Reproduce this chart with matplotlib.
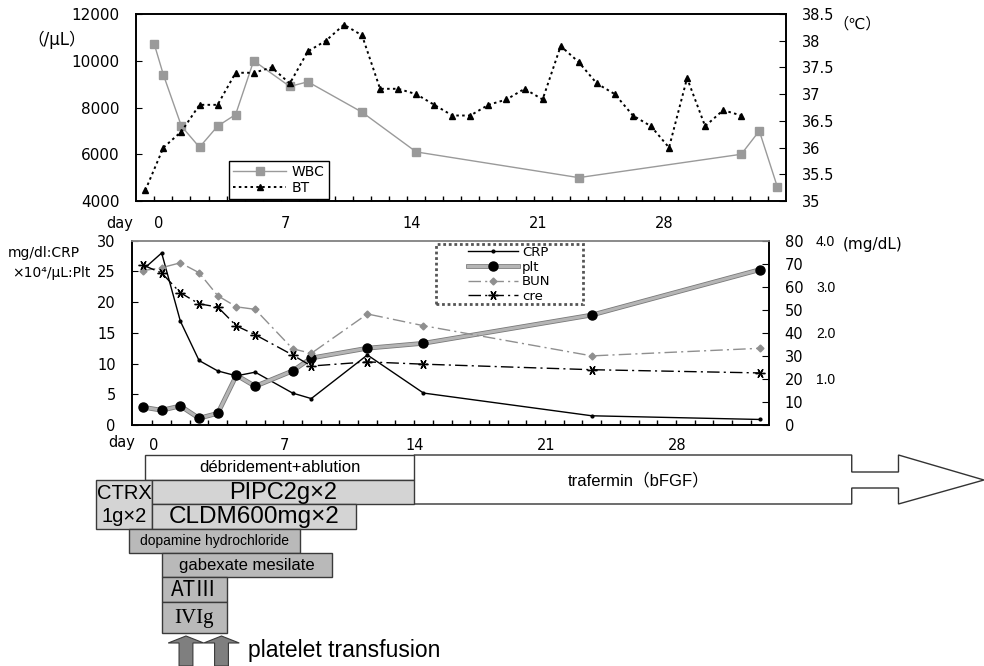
import matplotlib.pyplot as plt
import matplotlib.patheffects as pe
from matplotlib.patches import Rectangle, Polygon
import numpy as np

plt.rcParams['font.family'] = ['DejaVu Sans', 'Noto Sans CJK JP']

W, H = 984, 666

# top panel: WBC (/uL, left axis) and body temperature (deg C, right axis)
wbc_day = [-0.5, 0, 1, 2, 3, 4, 5, 7, 8, 11, 14, 23, 32, 33, 34]
wbc = [10700, 9400, 7200, 6300, 7200, 7700, 10000, 8900, 9100, 7800, 6100, 5000, 6000, 7000, 4600]
bt_day = list(range(-1, 33))
bt = [35.2, 36.0, 36.3, 36.8, 36.8, 37.4, 37.4, 37.5, 37.2, 37.8,
      38.0, 38.3, 38.1, 37.1, 37.1, 37.0, 36.8, 36.6, 36.6, 36.8,
      36.9, 37.1, 36.9, 37.9, 37.6, 37.2, 37.0, 36.6, 36.4, 36.0,
      37.3, 36.4, 36.7, 36.6]

# lower panel: CRP (mg/dl), plt (x10^4/uL), BUN (0-80), cre (mg/dL)
lab_day = [-1, 0, 1, 2, 3, 4, 5, 7, 8, 11, 14, 23, 32]
crp = [25.3, 28.0, 16.9, 10.5, 8.8, 8.0, 8.6, 5.2, 4.3, 11.4, 5.2, 1.5, 0.9]
plt_cnt = [2.9, 2.4, 3.1, 1.1, 1.9, 8.1, 6.3, 8.8, 10.9, 12.5, 13.3, 17.9, 25.3]
bun = [67.0, 68.3, 70.4, 66.1, 56.1, 51.3, 50.2, 33.1, 31.1, 48.2, 43.1, 30.0, 33.3]
cre = [3.47, 3.30, 2.87, 2.63, 2.56, 2.15, 1.96, 1.52, 1.28, 1.37, 1.32, 1.20, 1.13]

day_marks = [0, 7, 14, 21, 28]

# treatments (days on the lower panel's scale)
treat_name = ['débridement+ablution', 'CTRX\n1g×2', 'PIPC2g×2', 'CLDM600mg×2',
              'dopamine hydrochloride', 'gabexate mesilate', 'ATⅢ', 'IVIg']
treat_start = [-0.9, -3.5, -0.5, -0.5, -1.75, 0, 0, 0]
treat_end = [13.5, -0.5, 13.5, 10.4, 7.4, 9.1, 3.5, 3.5]
trafermin_start = 13.5
transfusion_day = [1.3, 3.2]


def box(l, t, r, b):
    return [l / W, 1 - b / H, (r - l) / W, (b - t) / H]


fig = plt.figure(figsize=(W / 100, H / 100), dpi=100)

# ---------- treatment bars ----------
axg = fig.add_axes(box(132.3, 448, 768.7, 666))
axg.set_xlim(-1.57, 32.46)
axg.set_ylim(666, 448)
axg.axis('off')

row_top = [455, 480, 480, 504, 529, 553, 577, 602]
row_bot = [480, 529, 504, 529, 553, 577, 602, 633]
row_fc = ['white', '#d4d4d4', '#d4d4d4', '#d4d4d4', '#b9b9b9', '#b9b9b9', '#b9b9b9', '#b9b9b9']
row_fs = [12, 14.5, 17, 17.5, 10, 12, 15, 15]
row_family = ['Liberation Sans'] * 6 + ['Noto Sans CJK JP', 'Liberation Serif']

# trafermin block arrow
ends = 36.9
shaft = 39.4
tip = 43.97
verts = [(trafermin_start, 455), (ends, 455), (ends, 472), (shaft, 472), (shaft, 455),
         (tip, 480), (shaft, 504), (shaft, 488), (ends, 488), (ends, 504), (trafermin_start, 504)]
axg.add_patch(Polygon(verts, closed=True, fc='white', ec='#333333', lw=1, clip_on=False))
axg.text((trafermin_start + ends) / 2 + 0.3, 480, 'trafermin（bFGF）', ha='center', va='center',
         fontsize=12, family=['Liberation Sans', 'Noto Sans CJK JP'], clip_on=False)

for i in range(len(treat_name)):
    a, b = treat_start[i], treat_end[i]
    axg.add_patch(Rectangle((a, row_top[i]), b - a, row_bot[i] - row_top[i], fc=row_fc[i],
                            ec='#3a3a3a', lw=1, clip_on=False))
    axg.text((a + b) / 2, (row_top[i] + row_bot[i]) / 2 + 0.5, treat_name[i], ha='center', va='center',
             fontsize=row_fs[i], family=row_family[i], linespacing=1.25, clip_on=False)

for d in transfusion_day:
    hw, sw = 0.95, 0.37
    arrow = [(d - sw, 666), (d - sw, 643), (d - hw, 643), (d, 636), (d + hw, 643), (d + sw, 643), (d + sw, 666)]
    axg.add_patch(Polygon(arrow, closed=True, fc='#7f7f7f', ec='#3a3a3a', lw=0.8, clip_on=False))
fig.text(248 / W, 1 - 651 / H, 'platelet transfusion', ha='left', va='center', fontsize=16.5,
         family='Liberation Sans')

# ---------- top panel ----------
ax1 = fig.add_axes(box(136.3, 14, 786.4, 201))
l_wbc, = ax1.plot(wbc_day, wbc, color='#9a9a9a', lw=1, marker='s', ms=5.5,
                  mfc='#9a9a9a', mec='#9a9a9a', label='WBC')
ax1.set_xlim(-1.5, 34.5)
ax1.set_ylim(4000, 12000)
ax1.set_yticks(range(4000, 12001, 2000))
ax1.set_xticks([k - 0.25 for k in day_marks])
ax1.set_xticklabels([str(k) for k in day_marks])
ax1.set_xticks(np.arange(-0.5, 34), minor=True)
ax1.tick_params(axis='x', which='major', length=0, pad=11, labelsize=10.5)
ax1.tick_params(axis='x', which='minor', direction='in', length=3.5, width=1)
ax1.tick_params(axis='y', direction='in', length=4, pad=12, labelsize=11)

ax1b = ax1.twinx()
l_bt, = ax1b.plot(bt_day, bt, color='black', lw=1.4, ls=(0, (1.3, 1.7)), marker='^', ms=4.5,
                  mfc='black', mec='black', label='BT')
ax1b.set_ylim(35, 38.5)
ax1b.set_yticks(np.arange(35, 38.51, 0.5))
ax1b.set_yticklabels(['%g' % v for v in np.arange(35, 38.51, 0.5)])
ax1b.tick_params(axis='y', direction='in', length=5, pad=11.5, labelsize=10.5)
for a in (ax1, ax1b):
    for s in a.spines.values():
        s.set_linewidth(1.2)

leg1 = ax1b.legend([l_wbc, l_bt], ['WBC', 'BT'], loc='upper left',
                   bbox_to_anchor=(229 / W, 1 - 161 / H), bbox_transform=fig.transFigure,
                   borderaxespad=0, fancybox=False, framealpha=1, fontsize=10,
                   handlelength=3.8, labelspacing=0.1, borderpad=0.3, handletextpad=0.4)
leg1.get_frame().set_edgecolor('black')
leg1.get_frame().set_linewidth(1)

fig.text(57 / W, 1 - 40 / H, '（/μL）', ha='center', va='center', fontsize=12)
fig.text(857 / W, 1 - 24 / H, '（℃）', ha='center', va='center', fontsize=11)
fig.text(120 / W, 1 - 223 / H, 'day', ha='center', va='center', fontsize=10.5)

# ---------- lower panel ----------
ax2 = fig.add_axes(box(132.3, 240.7, 768.7, 425))
l_crp, = ax2.plot(lab_day, crp, color='black', lw=1, marker='o', ms=2, label='CRP')
l_plt, = ax2.plot(lab_day, plt_cnt, color='#b5b5b5', lw=2.2,
                  path_effects=[pe.Stroke(linewidth=3.4, foreground='#7a7a7a'), pe.Normal()])
m_plt, = ax2.plot(lab_day, plt_cnt, ls='none', marker='o', ms=6.5, mfc='black', mec='black')
ax2.set_xlim(-1.57, 32.46)
ax2.set_ylim(0, 30)
ax2.set_yticks(range(0, 31, 5))
ax2.set_xticks([k - 0.45 for k in day_marks])
ax2.set_xticklabels([str(k) for k in day_marks])
ax2.set_xticks(np.arange(-0.5, 32), minor=True)
ax2.tick_params(axis='x', which='major', length=0, pad=9, labelsize=10.5)
ax2.tick_params(axis='x', which='minor', direction='in', length=3.5, width=1)
ax2.tick_params(axis='y', direction='in', length=4, pad=12, labelsize=10.5)

ax2b = ax2.twinx()
l_bun, = ax2b.plot(lab_day, bun, color='#8f8f8f', lw=1, ls=(0, (9, 3, 1.5, 3)), marker='D', ms=3.5,
                   mfc='#8f8f8f', mec='#8f8f8f', label='BUN')
ax2b.set_ylim(0, 80)
ax2b.set_yticks(range(0, 81, 10))
ax2b.tick_params(axis='y', direction='in', length=5, pad=11.5, labelsize=10.5)

ax2c = ax2.twinx()
l_cre, = ax2c.plot(lab_day, cre, color='black', lw=1, ls=(0, (9, 3, 1.5, 3)), marker=(6, 2, 90), ms=7,
                   mew=1, label='cre')
ax2c.set_ylim(0, 4)
ax2c.set_yticks([1, 2, 3, 4])
ax2c.set_yticklabels(['1.0', '2.0', '3.0', '4.0'], family='Liberation Sans')
ax2c.tick_params(axis='y', length=0, pad=34, labelsize=10)
for s in ax2c.spines.values():
    s.set_visible(False)
for a in (ax2, ax2b):
    for s in a.spines.values():
        s.set_linewidth(1.2)
    a.spines['top'].set_color('#8a8a8a')

# legend box with wide side margins
frame = Rectangle((436 / W, 1 - 304 / H), 147 / W, 60 / H, transform=fig.transFigure,
                  fc='white', ec='#555555', lw=2, ls=(0, (1, 1)), zorder=4, clip_on=False)
ax2c.add_patch(frame)
leg2 = ax2c.legend([l_crp, (l_plt, m_plt), l_bun, l_cre], ['CRP', 'plt', 'BUN', 'cre'], loc='upper left',
                   bbox_to_anchor=(468 / W, 1 - 246 / H), bbox_transform=fig.transFigure,
                   borderaxespad=0, frameon=False, fontsize=9.5,
                   handlelength=3.8, labelspacing=0.12, borderpad=0, handletextpad=0.3)
leg2.set_zorder(5)

fig.text(8 / W, 1 - 253 / H, 'mg/dl:CRP', ha='left', va='center', fontsize=10)
fig.text(12 / W, 1 - 273 / H, '×10⁴/μL:Plt', ha='left', va='center', fontsize=10)
fig.text(843 / W, 1 - 244 / H, '(mg/dL)', ha='left', va='center', fontsize=11)
fig.text(122 / W, 1 - 442 / H, 'day', ha='center', va='center', fontsize=10.5)

fig.savefig('out.png', dpi=100)
